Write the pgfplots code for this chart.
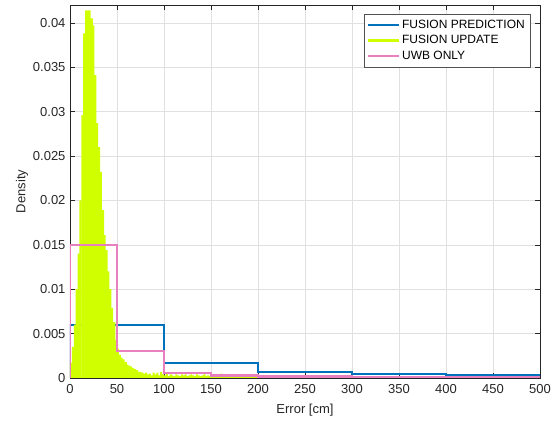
\documentclass[border=0pt]{standalone}
\usepackage{pgfplots}
\pgfplotsset{compat=1.18}
\usepackage{fontspec}
\setmainfont{Liberation Sans}
\definecolor{mblue}{RGB}{0,114,189}
\definecolor{mlime}{RGB}{208,255,0}
\definecolor{mpink}{RGB}{232,128,192}
\definecolor{axgray}{RGB}{38,38,38}
\begin{document}
\begin{tikzpicture}
\useasboundingbox (-70pt,-45pt) rectangle (485pt,378pt);
\begin{axis}[
  at={(0,0)}, anchor=south west,
  scale only axis, width=470pt, height=373pt,
  xmin=0, xmax=500, ymin=0, ymax=0.042,
  xtick={0,50,...,500},
  ytick={0,0.005,0.01,0.015,0.02,0.025,0.03,0.035,0.04},
  scaled y ticks=false,
  yticklabel style={/pgf/number format/fixed,/pgf/number format/precision=3, xshift=-1pt},
  xticklabel style={yshift=-3pt},
  /pgf/number format/assume math mode=true,
  tick label style={font=\fontsize{13}{15}\selectfont, text=axgray},
  label style={font=\fontsize{13}{15}\selectfont, text=axgray},
  xlabel={Error [cm]}, ylabel={Density},
  x label style={at={(axis description cs:0.5,0)}, anchor=center, yshift=-32pt},
  y label style={at={(axis description cs:-0.102,0.5)}, anchor=center, rotate=0},
  tick align=inside, major tick length=5pt,
  axis line style={axgray, line width=0.5pt},
  tick style={axgray, line width=0.5pt},
  grid=major, major grid style={black!12, line width=0.5pt},
  legend style={at={(1,1)}, anchor=north east, xshift=-10pt, yshift=-9pt,
    draw=axgray!80, fill=white,
    font=\fontsize{12}{13}\selectfont, row sep=1.5pt, inner ysep=4pt, inner xsep=3pt},
  legend cell align=left,
  legend image code/.code={\draw[#1] (0pt,0pt) -- (31pt,0pt);},
  upd/.style={fill=mlime, draw=none, const plot mark left, forget plot},
]
% FUSION PREDICTION (stairs)
\addplot[mblue, line width=2.2pt, forget plot] coordinates {
 (0,0) (0,0.0060) (100,0.0060) (100,0.0017) (200,0.0017) (200,0.0007)
 (300,0.0007) (300,0.00047) (400,0.00047) (400,0.00031) (500,0.00031) (500,0)};
% FUSION UPDATE (fine histogram, 2 cm bins, drawn in pieces)
\addplot[upd] coordinates {(0,0.0017) (2,0.0035) (4,0.0060) (6,0.0100) (8,0.0140) (10,0.0200) (12.4,0)} \closedcycle;
\addplot[upd] coordinates {(12,0.0296) (14,0.0388) (16,0.0414) (18,0.0414) (20,0.0414) (22,0.0405) (24.4,0)} \closedcycle;
\addplot[upd] coordinates {(24,0.0397) (26,0.0341) (28,0.0287) (30,0.0260) (32,0.0232) (34,0.0189) (36.4,0)} \closedcycle;
\addplot[upd] coordinates {(36,0.0161) (38,0.0144) (40,0.0120) (42,0.0100) (44,0.0079) (46,0.0063) (48.4,0)} \closedcycle;
\addplot[upd] coordinates {(48,0.0043) (50,0.0033) (52,0.0026) (54,0.0023) (56,0.0021) (58,0.0018) (60.4,0)} \closedcycle;
\addplot[upd] coordinates {(60,0.0015) (62,0.0014) (64,0.0013) (66,0.0011) (68,0.0010) (70,0.0009) (72.4,0)} \closedcycle;
\addplot[upd] coordinates {(72,0.0007) (74,0.0007) (76,0.0006) (78,0.0005) (80,0.0006) (82,0.0004) (84.4,0)} \closedcycle;
\addplot[upd] coordinates {(84,0.0005) (86,0.0003) (88,0.0006) (90,0.0004) (92,0.0006) (94,0.0003) (96.4,0)} \closedcycle;
\addplot[upd] coordinates {(96,0.0007) (98,0.0004) (100,0.0003) (102,0.0005) (104,0.0002) (106,0.0004) (108.4,0)} \closedcycle;
\addplot[upd] coordinates {(108,0.0003) (110,0.0002) (112,0.0004) (114,0.0003) (116,0.0002) (118,0.0004) (120.4,0)} \closedcycle;
\addplot[upd] coordinates {(120,0.0003) (122,0.0004) (124,0.0002) (126,0.0003) (128,0.0004) (130,0.0003) (132.4,0)} \closedcycle;
\addplot[upd] coordinates {(132,0.0002) (134,0.0004) (136,0.0003) (138,0.0002) (140,0.0003) (142,0.0004) (144.4,0)} \closedcycle;
\addplot[upd] coordinates {(144,0.0002) (146,0.0003) (148,0.0002) (150,0.0003) (152,0.0002) (154,0.0001) (156.4,0)} \closedcycle;
\addplot[upd] coordinates {(156,0.0002) (158,0.0003) (160,0.0005) (162,0.0002) (164,0.0003) (166,0.0002) (168.4,0)} \closedcycle;
\addplot[upd] coordinates {(168,0.0004) (170,0.0002) (172,0.0003) (174,0.0002) (176,0.0001) (178,0.0002) (180.4,0)} \closedcycle;
\addplot[upd] coordinates {(180,0.0001) (182,0.0002) (184,0.0001) (186,0.0002) (188,0.0001) (190,0.0001) (192.4,0)} \closedcycle;
\addplot[upd] coordinates {(192,0.0002) (194,0.0001) (196,0.0001) (198,0.0002) (200,0.0001) (202,0.0002) (204.4,0)} \closedcycle;
\addplot[upd] coordinates {(204,0.0001) (206,0.0001) (208,0.0002) (210,0.0001) (212,0.0001) (214,0)} \closedcycle;
% UWB ONLY (stairs)
\addplot[mpink, line width=2.2pt, forget plot] coordinates {
 (0,0) (0,0.0150) (50,0.0150) (50,0.0030) (100,0.0030) (100,0.0006)
 (150,0.0006) (150,0.00028) (200,0.00028) (200,0.00017) (300,0.00017)
 (300,0.00012) (500,0.00012) (500,0)};
\addlegendimage{mblue, line width=2.2pt}
\addlegendimage{mlime, line width=2.2pt}
\addlegendimage{mpink, line width=2.2pt}
\legend{FUSION PREDICTION, FUSION UPDATE, UWB ONLY}
\end{axis}
\end{tikzpicture}
\end{document}
